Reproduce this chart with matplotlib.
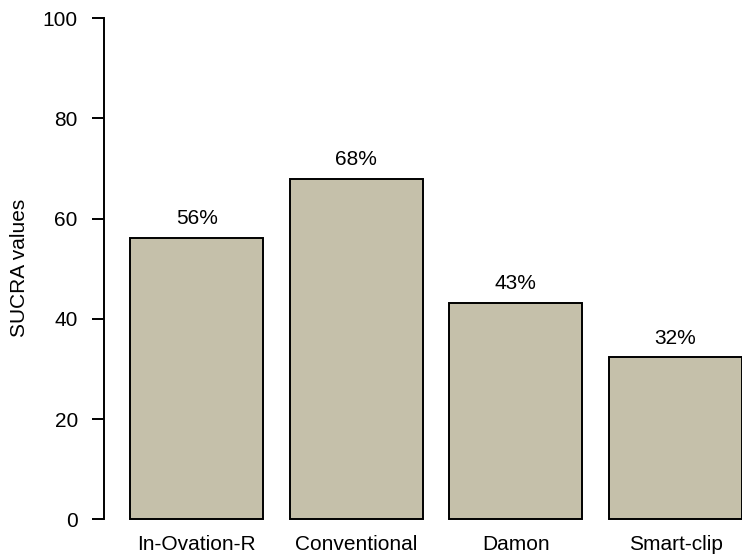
import matplotlib
matplotlib.use("Agg")
import matplotlib.pyplot as plt

treatments = ["In-Ovation-R", "Conventional", "Damon", "Smart-clip"]
sucra = [56.2, 67.9, 43.2, 32.3]
labels = ["56%", "68%", "43%", "32%"]
yticks = [0, 20, 40, 60, 80, 100]

plt.rcParams['font.family'] = ['Liberation Sans', 'DejaVu Sans']

fig = plt.figure(figsize=(7.42, 5.54), dpi=100)
# plot region: left edge at the y axis, right edge at the figure edge
ax = fig.add_axes([103.7 / 742, (554 - 519.3) / 554, (742 - 103.7) / 742, (519.3 - 18) / 554])

# R barplot layout: width 1, space 0.2
pos = [0.2 + 1.2 * i + 0.5 for i in range(len(treatments))]
ax.bar(pos, sucra, width=1.0, color="#C5C0AA", edgecolor="black", linewidth=1.4, clip_on=False)

for x, v, t in zip(pos, sucra, labels):
    ax.text(x, v + 3.8, t, ha="center", va="center", fontsize=15)

ax.set_xlim(0, 4.8)
ax.set_ylim(0, 100)
ax.set_yticks(yticks)
ax.set_yticklabels([str(t) for t in yticks], fontsize=15)
ax.set_xticks(pos)
ax.set_xticklabels(treatments, fontsize=15)
ax.tick_params(axis="x", length=0, pad=11)
ax.tick_params(axis="y", length=8.6, width=1.4, pad=10, direction="out")

for s in ["top", "right", "bottom"]:
    ax.spines[s].set_visible(False)
ax.spines["left"].set_linewidth(1.4)
ax.spines["left"].set_bounds(0, 100)
ax.patch.set_visible(False)

fig.text(20 / 742, 1 - 268 / 554, "SUCRA values", rotation=90, ha="center", va="center", fontsize=15)

fig.savefig("out.png", dpi=100)
